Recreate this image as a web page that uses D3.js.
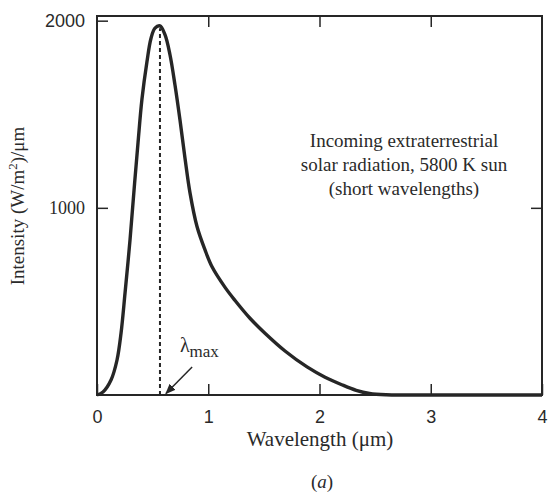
<!DOCTYPE html>
<html><head><meta charset="utf-8">
<script src="https://cdn.jsdelivr.net/npm/d3@7"></script>
<style>body{margin:0;background:#fff}</style>
</head><body><svg id="c" width="550" height="495"></svg>
<script>
const wavelength = [0,0.054,0.126,0.18,0.216,0.252,0.297,0.333,0.369,0.404,0.449,0.485,0.521,0.566,0.611,0.656,0.701,0.746,0.791,0.836,0.899,0.971,1.034,1.151,1.241,1.375,1.51,1.69,1.888,2.05,2.2,2.33,2.45,2.6,2.8,3.2,3.6,4.0];
const intensity  = [0,16,80,187,330,545,830,1095,1350,1580,1780,1905,1960,1972,1925,1818,1656,1469,1265,1080,900,775,685,575,505,410,330,235,150,95,55,25,8,1,0,0,0,0];
const xTicks = [0,1,2,3,4];
const yTicks = [1000,2000];
const lambdaMax = 0.566;
const noteLines = ["Incoming extraterrestrial","solar radiation, 5800 K sun","(short wavelengths)"];

const svg = d3.select("#c");
const x = d3.scaleLinear([0,4],[97,542]);
const y = d3.scaleLinear([0,2025],[395,16]);
const ink = "#262626";
const txt = "#2a2a2a";
const serif = "'Liberation Serif','DejaVu Serif',serif";
const sans = "'Liberation Sans',Arial,sans-serif";

// frame
svg.append("rect").attr("x",x(0)).attr("y",y(2025)).attr("width",x(4)-x(0)).attr("height",y(0)-y(2025))
  .attr("fill","none").attr("stroke",ink).attr("stroke-width",2);

// bottom axis
const gb = svg.append("g").attr("transform",`translate(0,${y(0)})`)
  .call(d3.axisBottom(x).tickValues(xTicks).tickSize(-11).tickPadding(15).tickFormat(d3.format("d")));
gb.select(".domain").remove();
gb.selectAll("line").attr("stroke",ink).attr("stroke-width",1.5);
gb.selectAll("text").attr("font-family",sans).attr("font-size",18).attr("fill",txt);
// top ticks
const gt = svg.append("g").attr("transform",`translate(0,${y(2025)})`)
  .call(d3.axisTop(x).tickValues([1,2,3]).tickSize(-11).tickFormat(""));
gt.select(".domain").remove();
gt.selectAll("line").attr("stroke",ink).attr("stroke-width",1.5);
// left axis
const gl = svg.append("g").attr("transform",`translate(${x(0)},0)`)
  .call(d3.axisLeft(y).tickValues(yTicks).tickSize(-11).tickPadding(12).tickFormat(d3.format("d")));
gl.select(".domain").remove();
gl.selectAll("line").attr("stroke",ink).attr("stroke-width",1.5);
gl.selectAll("text").attr("font-size",18).attr("fill",txt)
  .attr("font-family",d=>d===2000?sans:serif);
// right ticks
const gr = svg.append("g").attr("transform",`translate(${x(4)},0)`)
  .call(d3.axisRight(y).tickValues([1000]).tickSize(-11).tickFormat(""));
gr.select(".domain").remove();
gr.selectAll("line").attr("stroke",ink).attr("stroke-width",1.5);

// dashed lambda max line
svg.append("line").attr("x1",x(lambdaMax)).attr("x2",x(lambdaMax))
  .attr("y1",y(0)).attr("y2",y(1960))
  .attr("stroke",ink).attr("stroke-width",2).attr("stroke-dasharray","4,3");

// curve
const pts = wavelength.map((w,i)=>[w,intensity[i]]);
svg.append("path").datum(pts)
  .attr("d",d3.line().x(d=>x(d[0])).y(d=>y(d[1])).curve(d3.curveCatmullRom.alpha(0.5)))
  .attr("fill","none").attr("stroke",ink).attr("stroke-width",3.4).attr("stroke-linejoin","round");

// lambda max label and arrow
svg.append("defs").append("marker").attr("id","ah").attr("viewBox","0 0 10 10")
  .attr("refX",9).attr("refY",5).attr("markerWidth",7).attr("markerHeight",7).attr("orient","auto")
  .append("path").attr("d","M0,1 L10,5 L0,9 Z").attr("fill",ink);
svg.append("line").attr("x1",x(0.855)).attr("y1",y(150)).attr("x2",x(0.62)).attr("y2",y(8))
  .attr("stroke",ink).attr("stroke-width",1.5).attr("marker-end","url(#ah)");
const lt = svg.append("text").attr("x",x(0.745)).attr("y",y(0)-43)
  .attr("font-family",serif).attr("font-size",20).attr("fill",txt);
lt.append("tspan").text("λ");
lt.append("tspan").attr("dy",5).attr("font-size",17).text("max");

// note
svg.append("g").selectAll("text").data(noteLines).join("text")
  .attr("x",404).attr("y",(d,i)=>147+i*24).attr("text-anchor","middle")
  .attr("font-family",serif).attr("font-size",19).attr("fill",txt).text(d=>d);

// axis titles
const yt = svg.append("text").attr("transform","translate(24,206) rotate(-90)").attr("text-anchor","middle")
  .attr("font-family",serif).attr("font-size",19).attr("fill",txt);
yt.append("tspan").text("Intensity (W/m");
yt.append("tspan").attr("dy",-7).attr("font-size",13).text("2");
yt.append("tspan").attr("dy",7).text(")/μm");
svg.append("text").attr("x",320).attr("y",446).attr("text-anchor","middle")
  .attr("font-family",serif).attr("font-size",21).attr("fill",txt).text("Wavelength (μm)");
const ca = svg.append("text").attr("x",322).attr("y",488).attr("text-anchor","middle")
  .attr("font-family",serif).attr("font-size",19).attr("fill",txt);
ca.append("tspan").text("(");
ca.append("tspan").attr("font-style","italic").text("a");
ca.append("tspan").text(")");
</script></body></html>
